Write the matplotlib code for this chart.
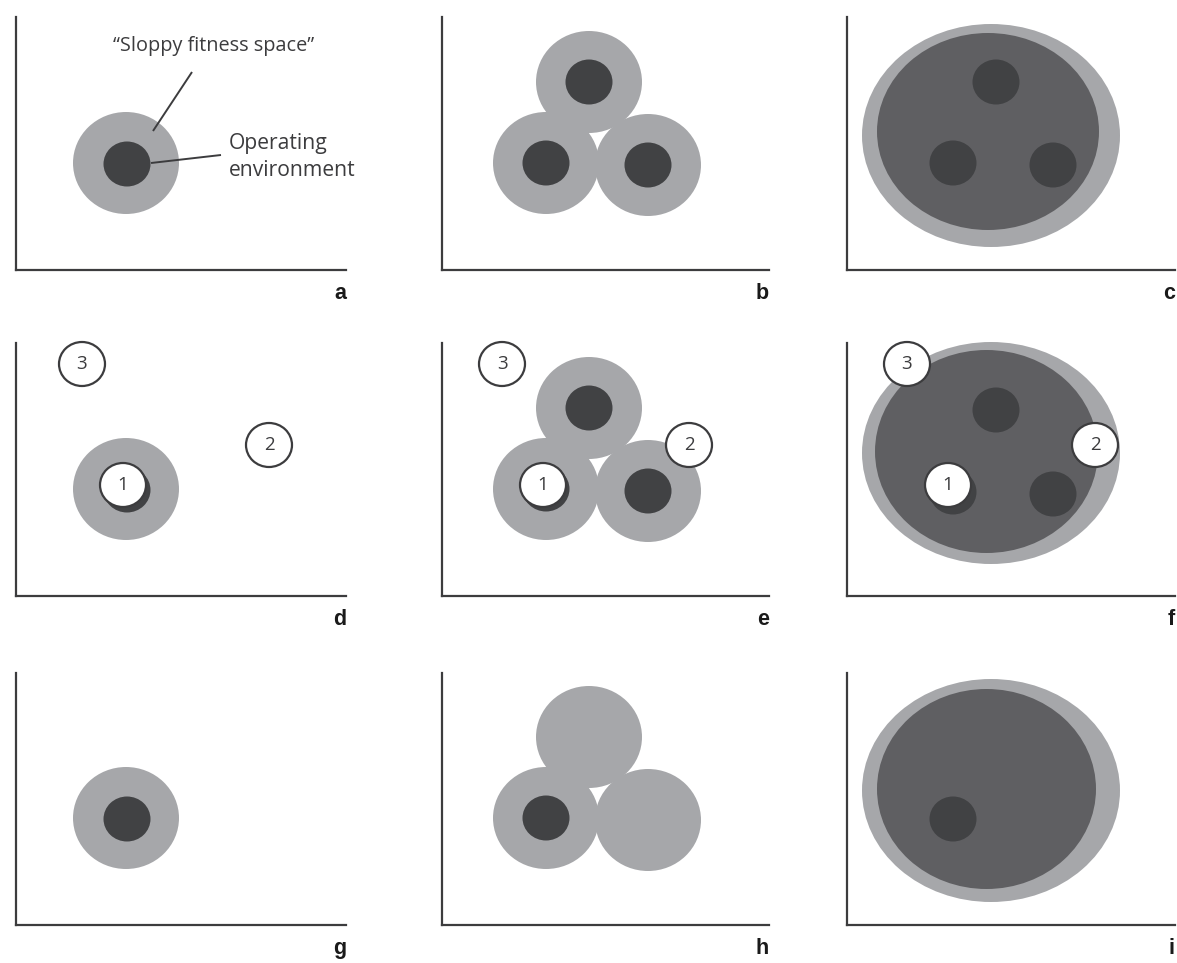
import matplotlib
matplotlib.use("Agg")
import matplotlib.pyplot as plt
from matplotlib.patches import Ellipse

# colours
LIGHT = "#a6a7aa"
MID = "#5f5f62"
DARK = "#414244"
INK = "#3c3c3e"

W, H = 1177, 963

# panel frames in pixels: left spine x, top, right end, bottom spine y
col_left = [16, 442, 847]
col_right = [346, 769, 1175]
row_top = [17, 343, 673]
row_bottom = [270, 596, 925]
panel_labels = ["a", "b", "c", "d", "e", "f", "g", "h", "i"]

# circle sizes (half width, half height) in panel pixels
sloppy_r = (53, 51)
operating_r = (23.5, 22.5)
point_r = (23, 22)

# centres, local coords (x from y-axis, y up from x-axis)
single_sloppy = [(110, 107)]
single_operating = [(111, 106)]
triple_sloppy = [(147, 188), (104, 107), (206, 105)]
triple_operating = [(147, 188), (104, 107), (206, 105)]

# big merged ellipse: (cx, cy, half width, half height)
big_outer = {"c": (144, 134.5, 129, 111.5),
             "f": (144, 143, 129, 111),
             "i": (144, 134.5, 129, 111.5)}
big_inner = {"c": (141, 138.5, 111, 98.5),
             "f": (139.5, 144.5, 111.5, 101.5),
             "i": (139.5, 136, 109.5, 100)}
big_dark = {"c": [(149, 188), (106, 107), (206, 105)],
            "f": [(149, 186), (106, 104), (206, 102)],
            "i": [(106, 106)]}

# numbered test environments
point_names = ["1", "2", "3"]
points_d = [(107, 111), (253, 151), (66, 232)]
points_e = [(101, 111), (247, 151), (60, 232)]
points_f = [(101, 111), (248, 151), (60, 232)]

fig = plt.figure(figsize=(W / 100, H / 100), dpi=100)


def elipse(ax, cx, cy, rx, ry, color, z=1, **kw):
    ax.add_patch(Ellipse((cx, cy), 2 * rx, 2 * ry, facecolor=color,
                         edgecolor="none", zorder=z, clip_on=False, **kw))


def puntos(ax, pts):
    for name, (x, y) in zip(point_names, pts):
        ax.add_patch(Ellipse((x, y), 2 * point_r[0], 2 * point_r[1],
                             facecolor="white", edgecolor=INK, linewidth=1.6,
                             zorder=5, clip_on=False))
        ax.text(x, y, name, ha="center", va="center", fontsize=13.5,
                family="Open Sans", color=INK, zorder=6)


ejes = {}
for i, lab in enumerate(panel_labels):
    r, c = divmod(i, 3)
    w = col_right[c] - col_left[c]
    h = row_bottom[r] - row_top[r]
    ax = fig.add_axes([col_left[c] / W, (H - row_bottom[r]) / H, w / W, h / H])
    ax.set_xlim(0, w)
    ax.set_ylim(0, h)
    for s in ["top", "right"]:
        ax.spines[s].set_visible(False)
    for s in ["left", "bottom"]:
        ax.spines[s].set_color(INK)
        ax.spines[s].set_linewidth(1.6)
    ax.set_xticks([])
    ax.set_yticks([])
    ax.patch.set_alpha(0)
    ax.text(w, -29, lab, ha="right", va="baseline", fontsize=15.5,
            fontweight="bold", family="Liberation Sans", color="#1a1a1a",
            clip_on=False)
    ejes[lab] = ax

# single sloppy spaces
for lab in ["a", "d", "g"]:
    ax = ejes[lab]
    for (x, y) in single_sloppy:
        elipse(ax, x, y, *sloppy_r, LIGHT)
    for (x, y) in single_operating:
        elipse(ax, x, y, *operating_r, DARK, z=2)

# three overlapping sloppy spaces
for lab in ["b", "e", "h"]:
    ax = ejes[lab]
    for (x, y) in triple_sloppy:
        elipse(ax, x, y, *sloppy_r, LIGHT)
    ops = triple_operating if lab != "h" else triple_operating[1:2]
    for (x, y) in ops:
        elipse(ax, x, y, *operating_r, DARK, z=2)

# merged space
for lab in ["c", "f", "i"]:
    ax = ejes[lab]
    elipse(ax, *big_outer[lab], LIGHT)
    elipse(ax, *big_inner[lab], MID, z=2)
    for (x, y) in big_dark[lab]:
        elipse(ax, x, y, *operating_r, DARK, z=3)

puntos(ejes["d"], points_d)
puntos(ejes["e"], points_e)
puntos(ejes["f"], points_f)

# annotations in panel a
ax = ejes["a"]
ax.plot([137, 176], [139, 198], color=INK, linewidth=1.4, zorder=4,
        solid_capstyle="butt")
ax.plot([135, 205], [107, 115], color=INK, linewidth=1.4, zorder=4,
        solid_capstyle="butt")
ax.text(198, 224, "\u201cSloppy fitness space\u201d", ha="center", va="center",
        fontsize=14.3, family="Open Sans", color=INK, clip_on=False)
ax.text(213, 113, "Operating\nenvironment", ha="left", va="center",
        fontsize=15.2, family="Open Sans", color=INK, linespacing=1.38,
        clip_on=False)

fig.savefig("out.png", dpi=100)
